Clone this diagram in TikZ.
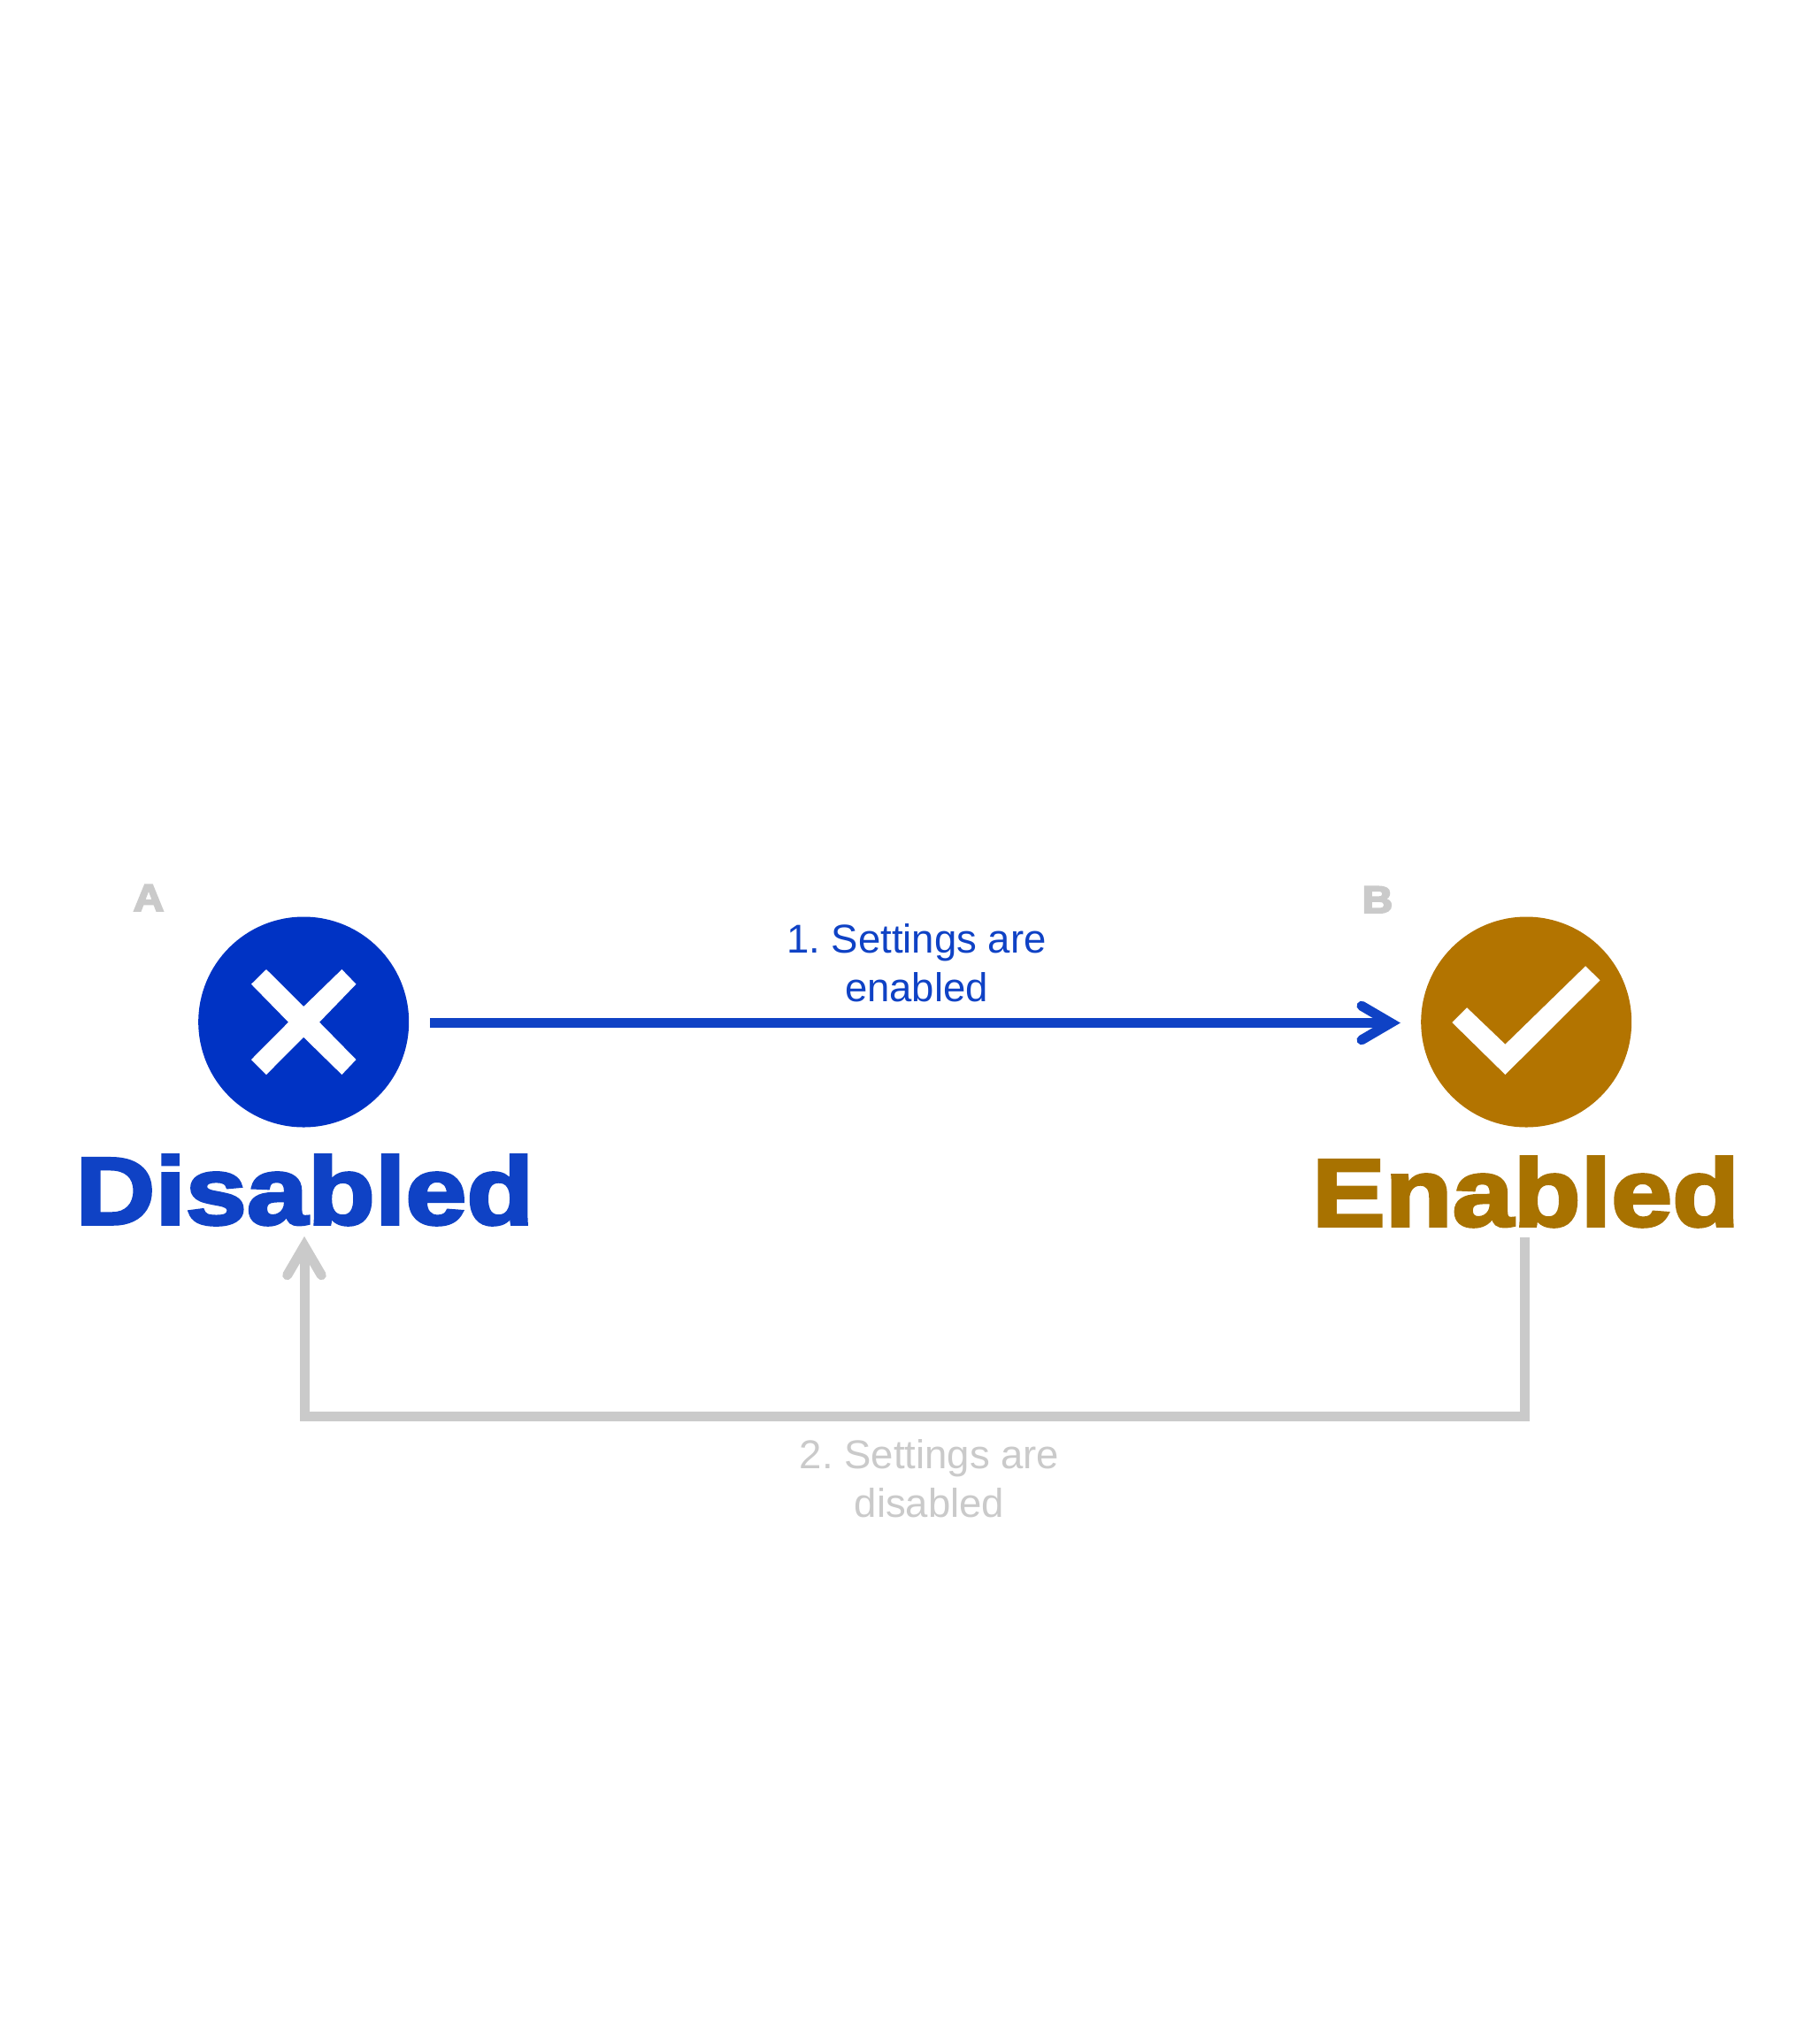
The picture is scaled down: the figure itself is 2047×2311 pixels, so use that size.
\documentclass[tikz,border=0pt]{standalone}
\usepackage{fontspec}
\setmainfont{Liberation Sans}
\newfontfamily\heavyfont[FakeBold=3.2,FakeStretch=1.15]{Liberation Sans Bold}
\newfontfamily\letterfont[FakeBold=4.5,FakeStretch=1.12]{Liberation Sans Bold}
\usetikzlibrary{arrows.meta}
\definecolor{bluecirc}{HTML}{0033C4}
\definecolor{bluetext}{HTML}{0F42C5}
\definecolor{ambercirc}{HTML}{B37400}
\definecolor{ambertext}{HTML}{A87200}
\definecolor{greyline}{HTML}{CACACA}
\pgfdeclarearrow{
  name=OpenBarb,
  setup code={
    \pgfarrowssettipend{0pt}
    \pgfarrowssetlineend{-12pt}
    \pgfarrowssetbackend{-44pt}
    \pgfarrowssetvisualbackend{-12pt}
    \pgfarrowshullpoint{0pt}{0pt}
  },
  drawing code={
    \pgfsetlinewidth{11pt}
    \pgfsetroundcap
    \pgfsetmiterjoin
    \pgfsetdash{}{0pt}
    \pgfpathmoveto{\pgfqpoint{-44pt}{19.3pt}}
    \pgfpathlineto{\pgfqpoint{-11pt}{0pt}}
    \pgfpathlineto{\pgfqpoint{-44pt}{-19.3pt}}
    \pgfusepathqstroke
  },
}
\tikzset{
  statecircle/.style={circle,minimum size=238pt,inner sep=0pt,outer sep=0pt},
  glyph/.style={fill=white,draw=none},
  heading/.style={inner sep=0pt,outer sep=0pt,font=\heavyfont\fontsize{108}{108}\selectfont,anchor=base},
  letter/.style={inner sep=0pt,outer sep=0pt,text=greyline,font=\letterfont\fontsize{43}{43}\selectfont,anchor=base},
  steplabel/.style={inner sep=0pt,outer sep=0pt,align=center,font=\frenchspacing\fontsize{45.5}{55}\selectfont,anchor=center},
  bluearrow/.style={draw=bluetext,line width=11pt,-{OpenBarb[color=bluetext]}},
  greyarrow/.style={draw=greyline,line width=11pt,-{OpenBarb[color=greyline]},line join=miter}
}
\begin{document}
\begin{tikzpicture}[x=1pt,y=-1pt]
\useasboundingbox (0,0) rectangle (2047,2311);
\fill[white] (0,0) rectangle (2047,2311);
\node[statecircle,fill=bluecirc] (disc) at (343.2,1155.5) {};
\node[statecircle,fill=ambercirc] (enc) at (1725.2,1155.5) {};
\fill[glyph] (343.2,1138) -- (386.4,1096) -- (402.5,1112.7) -- (361,1155.7) -- (402.5,1198) -- (386.4,1215) -- (343.2,1172.7) -- (301,1215) -- (284,1198) -- (326,1155.7) -- (284,1112.7) -- (301,1096) -- cycle;
\fill[glyph] (1792.1,1092.3) -- (1808.5,1108.3) -- (1701.4,1215) -- (1641.3,1156) -- (1658.1,1139.3) -- (1701.4,1180.7) -- cycle;
\node[heading,text=bluetext] (dis) at (344.5,1384) {Disabled};
\node[heading,text=ambertext] (ena) at (1724.5,1386) {Enabled};
\node[letter] (la) at (168,1030) {A};
\node[letter] (lb) at (1557,1032) {B};
\node[steplabel,text=bluetext] (s1) at (1036,1089) {1. Settings are\\enabled};
\node[steplabel,text=greyline] (s2) at (1050.5,1672) {2. Settings are\\disabled};
\coordinate (bstart) at (486,1156.5);
\coordinate (bend) at (1583,1156.5);
\coordinate (gstart) at (1723,1399);
\coordinate (gend) at (344,1397.7);
\draw[bluearrow] (bstart) -- (bend);
\draw[greyarrow] (gstart) |- (344,1601) -- (gend);
\end{tikzpicture}
\end{document}
